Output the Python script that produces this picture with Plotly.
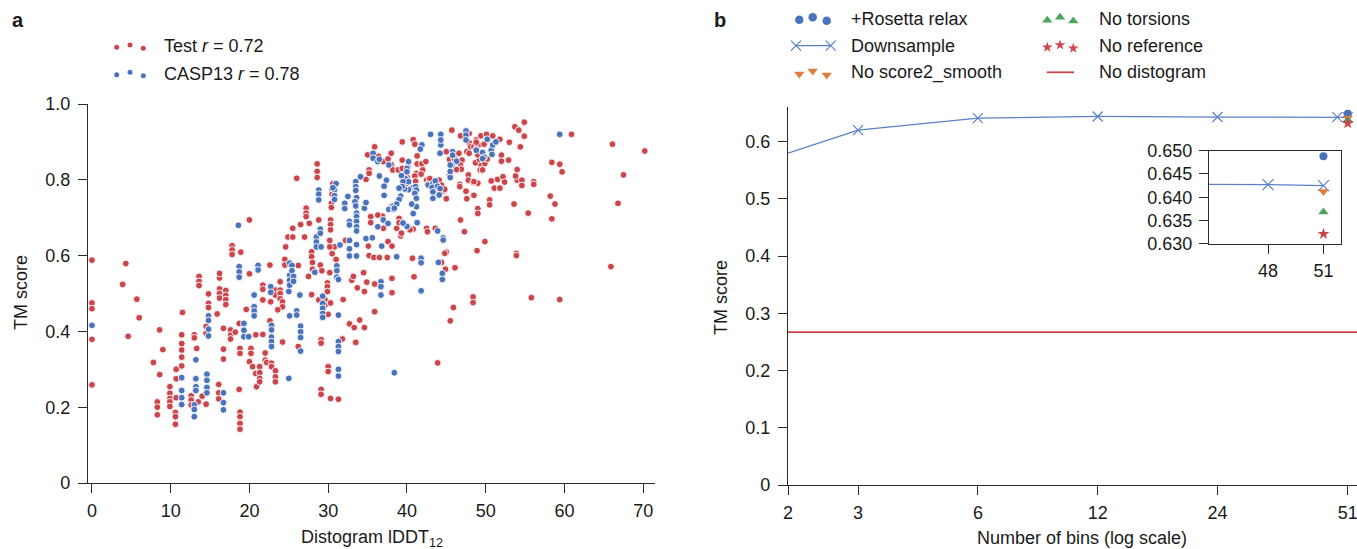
import math
import plotly.graph_objects as go

# ---------------- data ----------------
# Panel a: (Distogram lDDT12, TM score)
test_pts = [
    (0, 0.588), (0, 0.475), (0, 0.460), (0, 0.379), (0, 0.259),
    (4.3, 0.579), (3.9, 0.524), (5.7, 0.485), (6.0, 0.436), (4.6, 0.387),
    (8.6, 0.404), (9.0, 0.352), (7.8, 0.318), (8.6, 0.286),
    (8.3, 0.214), (8.3, 0.200), (8.3, 0.180),
    (9.9, 0.254), (9.9, 0.237), (9.9, 0.223), (9.9, 0.214), (9.9, 0.202),
    (10.6, 0.186), (10.6, 0.175), (10.6, 0.155),
    (10.7, 0.300), (10.7, 0.275), (10.7, 0.225),
    (11.4, 0.391), (11.4, 0.368), (11.4, 0.351), (11.4, 0.332), (11.4, 0.309),
    (11.5, 0.450),
    (12.6, 0.230), (12.6, 0.219), (12.6, 0.206),
    (13.0, 0.391), (13.0, 0.383), (13.3, 0.355),
    (14.0, 0.229), (14.5, 0.208), (13.5, 0.214),
    (14.5, 0.413), (14.5, 0.395),
    (14.8, 0.499), (14.8, 0.474), (14.8, 0.463),
    (15.9, 0.446),
    (16.1, 0.260), (16.1, 0.238), (16.1, 0.222),
    (16.7, 0.353), (16.7, 0.327), (16.7, 0.408),
    (16.2, 0.541), (16.2, 0.512), (16.2, 0.500), (16.2, 0.488), (16.2, 0.553),
    (17.0, 0.508), (17.0, 0.495), (17.0, 0.484), (17.0, 0.471),
    (13.6, 0.545), (13.6, 0.532), (13.6, 0.521),
    (17.6, 0.404), (17.6, 0.390), (17.6, 0.380), (18.2, 0.398),
    (18.7, 0.421), (18.7, 0.247),
    (18.8, 0.187), (18.8, 0.175), (18.8, 0.157), (18.8, 0.142),
    (18.8, 0.355), (18.8, 0.342),
    (17.8, 0.626), (17.8, 0.615), (17.8, 0.603), (18.9, 0.609),
    (20.0, 0.694), (20.0, 0.552), (19.6, 0.458),
    (20.2, 0.355), (20.2, 0.342), (20.0, 0.320), (20.4, 0.307),
    (20.8, 0.391), (20.9, 0.254), (20.8, 0.289),
    (21.3, 0.307), (21.3, 0.291), (21.3, 0.276), (21.3, 0.267),
    (21.7, 0.392),
    (21.7, 0.522), (21.7, 0.511), (21.7, 0.483),
    (22.0, 0.343), (22.0, 0.324), (22.2, 0.318),
    (22.6, 0.428),
    (22.8, 0.316), (22.8, 0.307),
    (23.3, 0.296), (23.3, 0.280), (23.3, 0.267),
    (22.6, 0.575), (22.7, 0.478),
    (23.3, 0.509), (23.3, 0.496),
    (23.9, 0.531), (23.9, 0.509), (23.9, 0.500), (23.9, 0.486),
    (24.2, 0.478), (24.2, 0.465), (23.6, 0.457), (24.2, 0.372),
    (24.5, 0.590), (24.5, 0.575), (24.6, 0.623), (24.9, 0.649),
    (25.5, 0.672), (25.5, 0.649),
    (26.2, 0.574), (26.2, 0.360), (26.0, 0.804),
    (26.5, 0.682), (27.0, 0.649),
    (27.2, 0.725), (27.2, 0.712), (27.2, 0.703), (27.6, 0.685),
    (27.9, 0.610), (27.9, 0.597), (28.0, 0.582), (28.0, 0.564),
    (27.5, 0.545), (27.9, 0.497), (28.8, 0.483),
    (28.6, 0.842), (28.6, 0.822), (28.6, 0.806),
    (28.8, 0.694),
    (29.0, 0.575), (29.2, 0.560),
    (29.6, 0.483), (29.6, 0.470),
    (29.9, 0.528), (29.9, 0.518), (29.9, 0.505),
    (30.3, 0.475), (30.0, 0.445),
    (29.1, 0.378), (29.1, 0.369),
    (29.1, 0.247), (29.1, 0.234),
    (30.0, 0.307), (30.0, 0.294),
    (30.3, 0.223), (31.3, 0.221),
    (30.8, 0.623), (30.5, 0.605), (31.0, 0.590),
    (30.2, 0.640), (30.2, 0.623),
    (30.3, 0.694), (30.3, 0.682), (30.3, 0.668),
    (30.4, 0.738), (30.4, 0.727),
    (30.5, 0.775), (30.5, 0.762), (30.6, 0.790),
    (30.2, 0.555), (31.9, 0.484), (32.7, 0.420), (33.3, 0.410), (34.0, 0.430),
    (34.6, 0.410), (33.5, 0.371), (31.8, 0.380),
    (33.0, 0.535), (33.2, 0.545), (33.7, 0.515), (34.6, 0.505), (34.9, 0.530),
    (34.5, 0.555), (35.9, 0.525),
    (35.9, 0.452), (38.1, 0.540), (38.1, 0.502),
    (35.2, 0.600), (35.8, 0.595), (36.5, 0.595), (37.5, 0.595),
    (32.2, 0.640), (35.1, 0.625), (37.6, 0.637), (38.1, 0.625),
    (37.0, 0.672), (38.7, 0.672), (40.8, 0.670),
    (39.2, 0.652), (39.3, 0.659), (40.1, 0.677), (40.4, 0.668), (42.5, 0.672),
    (42.6, 0.663), (43.6, 0.672),
    (45.0, 0.609),
    (39.0, 0.698), (39.0, 0.687), (38.1, 0.731), (36.9, 0.704), (36.3, 0.707),
    (35.4, 0.703), (35.4, 0.687),
    (35.2, 0.826), (35.2, 0.817), (34.8, 0.801),
    (35.0, 0.866), (35.9, 0.887), (36.4, 0.862), (37.0, 0.848), (37.6, 0.855),
    (38.0, 0.870), (38.0, 0.840), (38.2, 0.826), (38.9, 0.826),
    (39.4, 0.900), (40.8, 0.906), (41.0, 0.894),
    (41.3, 0.863), (41.3, 0.842), (41.9, 0.842), (42.4, 0.848), (42.0, 0.826),
    (39.4, 0.852), (39.4, 0.830), (40.1, 0.834), (39.8, 0.786), (40.0, 0.807),
    (41.2, 0.817), (41.0, 0.810), (41.1, 0.796), (41.8, 0.815), (42.5, 0.799),
    (42.9, 0.803), (42.6, 0.788),
    (43.7, 0.786), (44.1, 0.799), (44.4, 0.786), (44.7, 0.771), (44.8, 0.775),
    (45.0, 0.750),
    (45.4, 0.812), (45.4, 0.854),
    (45.0, 0.874), (46.0, 0.856),
    (46.6, 0.870), (47.0, 0.852), (46.8, 0.839), (46.4, 0.826), (46.9, 0.828),
    (46.3, 0.827),
    (47.6, 0.874), (47.9, 0.898), (48.1, 0.887), (47.9, 0.870),
    (47.8, 0.813), (47.8, 0.799), (48.4, 0.793), (49.0, 0.791), (48.5, 0.795),
    (46.7, 0.788), (46.7, 0.782), (47.5, 0.770),
    (49.4, 0.839), (49.3, 0.826), (49.6, 0.826), (49.9, 0.843), (50.2, 0.855),
    (48.7, 0.845), (49.2, 0.854), (49.0, 0.866), (48.5, 0.887), (49.1, 0.892),
    (48.8, 0.881), (49.8, 0.894),
    (52.0, 0.865), (52.0, 0.849), (52.9, 0.852),
    (51.5, 0.801), (54.0, 0.799),
    (45.7, 0.931), (46.8, 0.916), (47.9, 0.922), (48.8, 0.905), (48.8, 0.899),
    (49.4, 0.916), (50.1, 0.920),
    (50.9, 0.916), (51.8, 0.907),
    (53.7, 0.940), (54.9, 0.952), (54.2, 0.931), (54.9, 0.915), (53.0, 0.899),
    (54.4, 0.887),
    (60.9, 0.920), (66.1, 0.894), (70.2, 0.876),
    (58.4, 0.846), (59.4, 0.841), (59.7, 0.821), (67.5, 0.813), (66.8, 0.738),
    (65.9, 0.571), (59.4, 0.484), (55.8, 0.489),
    (58.2, 0.757), (58.8, 0.736), (58.4, 0.697), (55.4, 0.712), (53.6, 0.736),
    (56.1, 0.795), (56.1, 0.788), (54.6, 0.799), (54.6, 0.785), (53.8, 0.810),
    (54.0, 0.827),
    (52.2, 0.808), (52.4, 0.794),
    (51.1, 0.778), (51.8, 0.778), (50.7, 0.797),
    (50.5, 0.747), (50.5, 0.734), (49.0, 0.724), (49.0, 0.711), (48.5, 0.759),
    (47.6, 0.750),
    (46.8, 0.694), (47.3, 0.663), (49.9, 0.637), (48.9, 0.613),
    (53.9, 0.606), (53.9, 0.600),
    (48.4, 0.491), (48.4, 0.476), (45.9, 0.463), (45.5, 0.428),
    (46.1, 0.568), (44.9, 0.564), (44.8, 0.606), (44.4, 0.582),
    (40.7, 0.593), (40.9, 0.544), (43.9, 0.317),
]

casp_pts = [
    (0, 0.416),
    (11.4, 0.278), (11.4, 0.244), (11.4, 0.225), (11.4, 0.207),
    (13.2, 0.325), (13.2, 0.275), (13.2, 0.254), (13.2, 0.244),
    (13.0, 0.206), (13.0, 0.194), (13.0, 0.175),
    (14.6, 0.287), (14.6, 0.271), (14.6, 0.252), (14.6, 0.238),
    (14.8, 0.441), (14.8, 0.429), (14.8, 0.406), (14.8, 0.388),
    (16.7, 0.238), (16.7, 0.212), (16.7, 0.193),
    (19.3, 0.421), (19.3, 0.403), (19.3, 0.386), (19.9, 0.386),
    (18.7, 0.571), (18.7, 0.557), (18.7, 0.543), (18.6, 0.680),
    (20.6, 0.465), (20.6, 0.454), (20.6, 0.441), (20.6, 0.496),
    (21.1, 0.574), (21.1, 0.562),
    (22.8, 0.416), (22.8, 0.404), (22.8, 0.385), (22.8, 0.373), (22.8, 0.360),
    (22.7, 0.518), (22.7, 0.503),
    (25.0, 0.505), (25.0, 0.276), (25.1, 0.441),
    (25.1, 0.548), (25.1, 0.535), (25.1, 0.522), (25.1, 0.580),
    (25.4, 0.574), (25.4, 0.560), (25.6, 0.545), (25.6, 0.532),
    (26.0, 0.454), (26.0, 0.443),
    (26.4, 0.496),
    (26.5, 0.414), (26.5, 0.399), (26.5, 0.384), (26.5, 0.348),
    (28.5, 0.649), (28.5, 0.636), (28.5, 0.623),
    (28.8, 0.773), (28.8, 0.762), (28.8, 0.747),
    (29.0, 0.670), (29.0, 0.659), (29.1, 0.623),
    (28.3, 0.556),
    (29.3, 0.493), (29.3, 0.474), (29.3, 0.461), (29.3, 0.447), (29.3, 0.437),
    (31.3, 0.300), (31.3, 0.282),
    (31.3, 0.373), (31.3, 0.360), (31.3, 0.347),
    (31.3, 0.443),
    (31.1, 0.573), (31.1, 0.560), (31.1, 0.543), (31.3, 0.537),
    (30.8, 0.774), (30.8, 0.758), (31.0, 0.790),
    (31.5, 0.628),
    (32.7, 0.640), (32.7, 0.618), (32.7, 0.599),
    (33.6, 0.629), (33.6, 0.599),
    (34.8, 0.645), (35.6, 0.647), (36.8, 0.625),
    (36.7, 0.531), (36.7, 0.518), (36.7, 0.496),
    (38.7, 0.597), (41.8, 0.593), (41.8, 0.581), (41.8, 0.507),
    (44.0, 0.582), (44.5, 0.553), (44.5, 0.537),
    (38.4, 0.291),
    (43.9, 0.665), (44.6, 0.647), (44.6, 0.641),
    (41.3, 0.687), (40.8, 0.711), (40.0, 0.677), (39.5, 0.686),
    (37.7, 0.722), (38.3, 0.722), (38.3, 0.731),
    (37.0, 0.694), (37.6, 0.685),
    (36.3, 0.676),
    (34.6, 0.725), (34.8, 0.740),
    (33.6, 0.712), (33.6, 0.703), (33.6, 0.690), (33.6, 0.676), (33.6, 0.665),
    (32.7, 0.690), (32.7, 0.681),
    (33.6, 0.753), (33.4, 0.742), (33.5, 0.731),
    (32.1, 0.738), (32.5, 0.756), (32.1, 0.724),
    (30.6, 0.779), (30.8, 0.748),
    (33.5, 0.795), (33.5, 0.782), (33.5, 0.772),
    (34.1, 0.808),
    (36.5, 0.810), (37.4, 0.799), (37.1, 0.783), (37.1, 0.759),
    (35.7, 0.870), (35.7, 0.857), (36.3, 0.848), (36.5, 0.854),
    (37.7, 0.839),
    (41.9, 0.892), (41.7, 0.881),
    (40.2, 0.848), (40.0, 0.830), (40.0, 0.821), (39.8, 0.803), (40.2, 0.795),
    (40.6, 0.778), (40.2, 0.774), (39.7, 0.776),
    (41.1, 0.782), (41.2, 0.773), (41.0, 0.764), (41.2, 0.751), (41.2, 0.729),
    (40.6, 0.736),
    (39.3, 0.811), (39.5, 0.795), (39.4, 0.782), (39.0, 0.778),
    (39.2, 0.757), (39.0, 0.748), (38.7, 0.736), (38.4, 0.725),
    (42.7, 0.786), (43.3, 0.790), (43.2, 0.780), (43.3, 0.768), (43.3, 0.751),
    (43.6, 0.797), (43.9, 0.783), (44.2, 0.777), (44.1, 0.760),
    (45.5, 0.806), (45.5, 0.822),
    (44.2, 0.870), (44.3, 0.892),
    (45.8, 0.874), (45.8, 0.865), (46.3, 0.849), (45.7, 0.838), (45.5, 0.839),
    (48.8, 0.878), (49.6, 0.872), (49.8, 0.860), (49.6, 0.856), (50.7, 0.878),
    (50.8, 0.867), (50.9, 0.892), (51.3, 0.900),
    (43.0, 0.920), (44.3, 0.920), (44.3, 0.905),
    (47.5, 0.929), (47.5, 0.918), (47.5, 0.905),
    (50.2, 0.907),
    (59.4, 0.920),
]

test_x = [p[0] for p in test_pts]
test_y = [p[1] for p in test_pts]
casp_x = [p[0] for p in casp_pts]
casp_y = [p[1] for p in casp_pts]

# Panel b
bins = [2, 3, 6, 12, 24, 48, 51]
downsample_tm = [0.580, 0.620, 0.641, 0.644, 0.6430, 0.6427, 0.6425]
full_bins = 51
rosetta_tm = 0.6488
no_smooth_tm = 0.6412
no_torsions_tm = 0.6368
no_reference_tm = 0.6321
no_distogram_tm = 0.267
bin_ticks = [2, 3, 6, 12, 24, 51]

# ---------------- styling ----------------
W, H = 1357, 549
FONT = "Liberation Sans, Arial, Helvetica, sans-serif"
RED = "#CC454B"
BLUE = "#4A72BD"
LBLUE = "#5B80C8"
ORANGE = "#E07D3C"
GREEN = "#4EA65C"
AX = "#2b2b2b"
TXT = "#1a1a1a"
FS = 18


def px(x):
    return x / W


def py(y):
    return 1 - y / H


axis_common = dict(showline=True, linecolor=AX, linewidth=1.3, ticks="outside",
                   ticklen=9, tickwidth=1.3, tickcolor=AX, showgrid=False,
                   zeroline=False, tickfont=dict(family=FONT, size=FS, color=TXT))

fig = go.Figure()

# ---- panel a scatter ----
fig.add_trace(go.Scatter(x=test_x, y=test_y, mode="markers", xaxis="x", yaxis="y",
                         marker=dict(color=RED, size=6.8, line=dict(color="white", width=0.9)),
                         cliponaxis=False, showlegend=False))
fig.add_trace(go.Scatter(x=casp_x, y=casp_y, mode="markers", xaxis="x", yaxis="y",
                         marker=dict(color=BLUE, size=6.8, line=dict(color="white", width=0.9)),
                         cliponaxis=False, showlegend=False))

# ---- panel b main ----
fig.add_trace(go.Scatter(x=[bins[0], 60], y=[no_distogram_tm] * 2, mode="lines",
                         xaxis="x2", yaxis="y2", line=dict(color=RED, width=1.8),
                         showlegend=False))
fig.add_trace(go.Scatter(x=bins, y=downsample_tm, mode="lines+markers", xaxis="x2", yaxis="y2",
                         line=dict(color=LBLUE, width=1.3),
                         marker=dict(symbol="x-thin", size=10, line=dict(color=LBLUE, width=1.2)),
                         cliponaxis=False, showlegend=False))
single = [
    (rosetta_tm, "circle", BLUE, 8),
    (no_smooth_tm, "triangle-down", ORANGE, 9),
    (no_torsions_tm, "triangle-up", GREEN, 9),
    (no_reference_tm, "star", RED, 9),
]
for val, sym, col, sz in single:
    fig.add_trace(go.Scatter(x=[full_bins], y=[val], mode="markers", xaxis="x2", yaxis="y2",
                             marker=dict(symbol=sym, color=col, size=sz), cliponaxis=False,
                             showlegend=False))

# ---- inset ----
fig.add_trace(go.Scatter(x=bins, y=downsample_tm, mode="lines+markers", xaxis="x3", yaxis="y3",
                         line=dict(color=LBLUE, width=1.3),
                         marker=dict(symbol="x-thin", size=11, line=dict(color=LBLUE, width=1.2)),
                         showlegend=False))
for val, sym, col, sz in single:
    fig.add_trace(go.Scatter(x=[full_bins], y=[val], mode="markers", xaxis="x3", yaxis="y3",
                             marker=dict(symbol=sym, color=col, size=sz), showlegend=False))

# ---- legends drawn on an overlay pixel axis ----
def leg(xs, ys, **kw):
    fig.add_trace(go.Scatter(x=xs, y=ys, xaxis="x4", yaxis="y4", showlegend=False,
                             cliponaxis=False, hoverinfo="skip", **kw))

# panel a legend
leg([116.7, 130, 143.3], [47.3, 45, 48.3], mode="markers", marker=dict(color=RED, size=5))
leg([116.7, 130, 143.3], [74.7, 72.3, 75.7], mode="markers", marker=dict(color=BLUE, size=5))
# panel b legend
leg([799.3, 812.7, 826.7], [19.7, 17.3, 20.7], mode="markers",
    marker=dict(symbol="circle", color=BLUE, size=8.5))
leg([796, 830.7], [45.7, 45.7], mode="lines+markers", line=dict(color=LBLUE, width=1.3),
    marker=dict(symbol="x-thin", size=10, line=dict(color=LBLUE, width=1.2)))
leg([799.3, 812.7, 826.7], [74, 71, 75], mode="markers",
    marker=dict(symbol="triangle-down", color=ORANGE, size=9))
leg([1047.3, 1060, 1073.3], [20.3, 17.3, 21], mode="markers",
    marker=dict(symbol="triangle-up", color=GREEN, size=9))
leg([1047.3, 1060, 1073.3], [47.3, 45, 48.3], mode="markers",
    marker=dict(symbol="star", color=RED, size=8))
leg([1046.7, 1074], [72.3, 72.3], mode="lines", line=dict(color=RED, width=1.8))

annotations = []


def text(x, y, s, size=FS, xanchor="left", yanchor="middle", angle=0, bold=False):
    if bold:
        s = "<b>" + s + "</b>"
    annotations.append(dict(x=px(x), y=py(y), xref="paper", yref="paper", text=s,
                            showarrow=False, xanchor=xanchor, yanchor=yanchor,
                            textangle=angle, font=dict(family=FONT, size=size, color=TXT)))


text(162.3, 46, "Test <i>r</i> = 0.72")
text(162.3, 73.5, "CASP13 <i>r</i> = 0.78")
text(849.3, 19, "+Rosetta relax")
text(849.3, 45.7, "Downsample")
text(849.3, 72.3, "No score2_smooth")
text(1096.7, 19, "No torsions")
text(1096.7, 45.7, "No reference")
text(1096.7, 72.3, "No distogram")
text(10, 20, "a", size=20, bold=True)
text(712, 20, "b", size=20, bold=True)
text(21, 293, "TM score", xanchor="center", angle=-90)
text(721, 298, "TM score", xanchor="center", angle=-90)
text(372, 538, "Distogram lDDT<sub>12</sub>", xanchor="center")
text(1082, 538, "Number of bins (log scale)", xanchor="center")

fig.update_layout(
    width=W, height=H, margin=dict(l=0, r=0, t=0, b=0, autoexpand=False),
    paper_bgcolor="white", plot_bgcolor="rgba(0,0,0,0)",
    font=dict(family=FONT, size=FS, color=TXT),
    showlegend=False,
    xaxis=dict(domain=[px(88), px(655)], range=[-0.5, 71.5], anchor="y",
               tickvals=[0, 10, 20, 30, 40, 50, 60, 70], ticklabelstandoff=2, **axis_common),
    yaxis=dict(domain=[py(483), py(104)], range=[0, 1.0], anchor="x",
               tickvals=[0, 0.2, 0.4, 0.6, 0.8, 1.0],
               ticktext=["0", "0.2", "0.4", "0.6", "0.8", "1.0"], ticklabelstandoff=4,
               **axis_common),
    xaxis2=dict(domain=[px(788), 1.0], type="log",
                range=[math.log10(2), math.log10(53.8)], anchor="y2",
                tickvals=bin_ticks, ticktext=[str(b) for b in bin_ticks],
                ticklabeloverflow="allow", ticklabelstandoff=2, **axis_common),
    yaxis2=dict(domain=[py(485), py(107.3)], range=[0, 0.66], anchor="x2",
                tickvals=[0, 0.1, 0.2, 0.3, 0.4, 0.5, 0.6],
                ticktext=["0", "0.1", "0.2", "0.3", "0.4", "0.5", "0.6"], ticklabelstandoff=4,
                **axis_common),
    xaxis3=dict(domain=[px(1209), px(1341)], range=[44.8, 51.95], anchor="y3",
                tickvals=[48, 51], ticktext=["48", "51"], mirror=True, ticklabelstandoff=2,
                **axis_common),
    yaxis3=dict(domain=[py(243.7), py(150.7)], range=[0.630, 0.650], anchor="x3",
                tickvals=[0.630, 0.635, 0.640, 0.645, 0.650],
                ticktext=["0.630", "0.635", "0.640", "0.645", "0.650"], mirror=True,
                ticklabelstandoff=3, **axis_common),
    xaxis4=dict(domain=[0, 1], range=[0, W], visible=False, anchor="y4", fixedrange=True),
    yaxis4=dict(domain=[0, 1], range=[H, 0], visible=False, anchor="x4", fixedrange=True),
    annotations=annotations,
)

fig.write_html("out.html")
